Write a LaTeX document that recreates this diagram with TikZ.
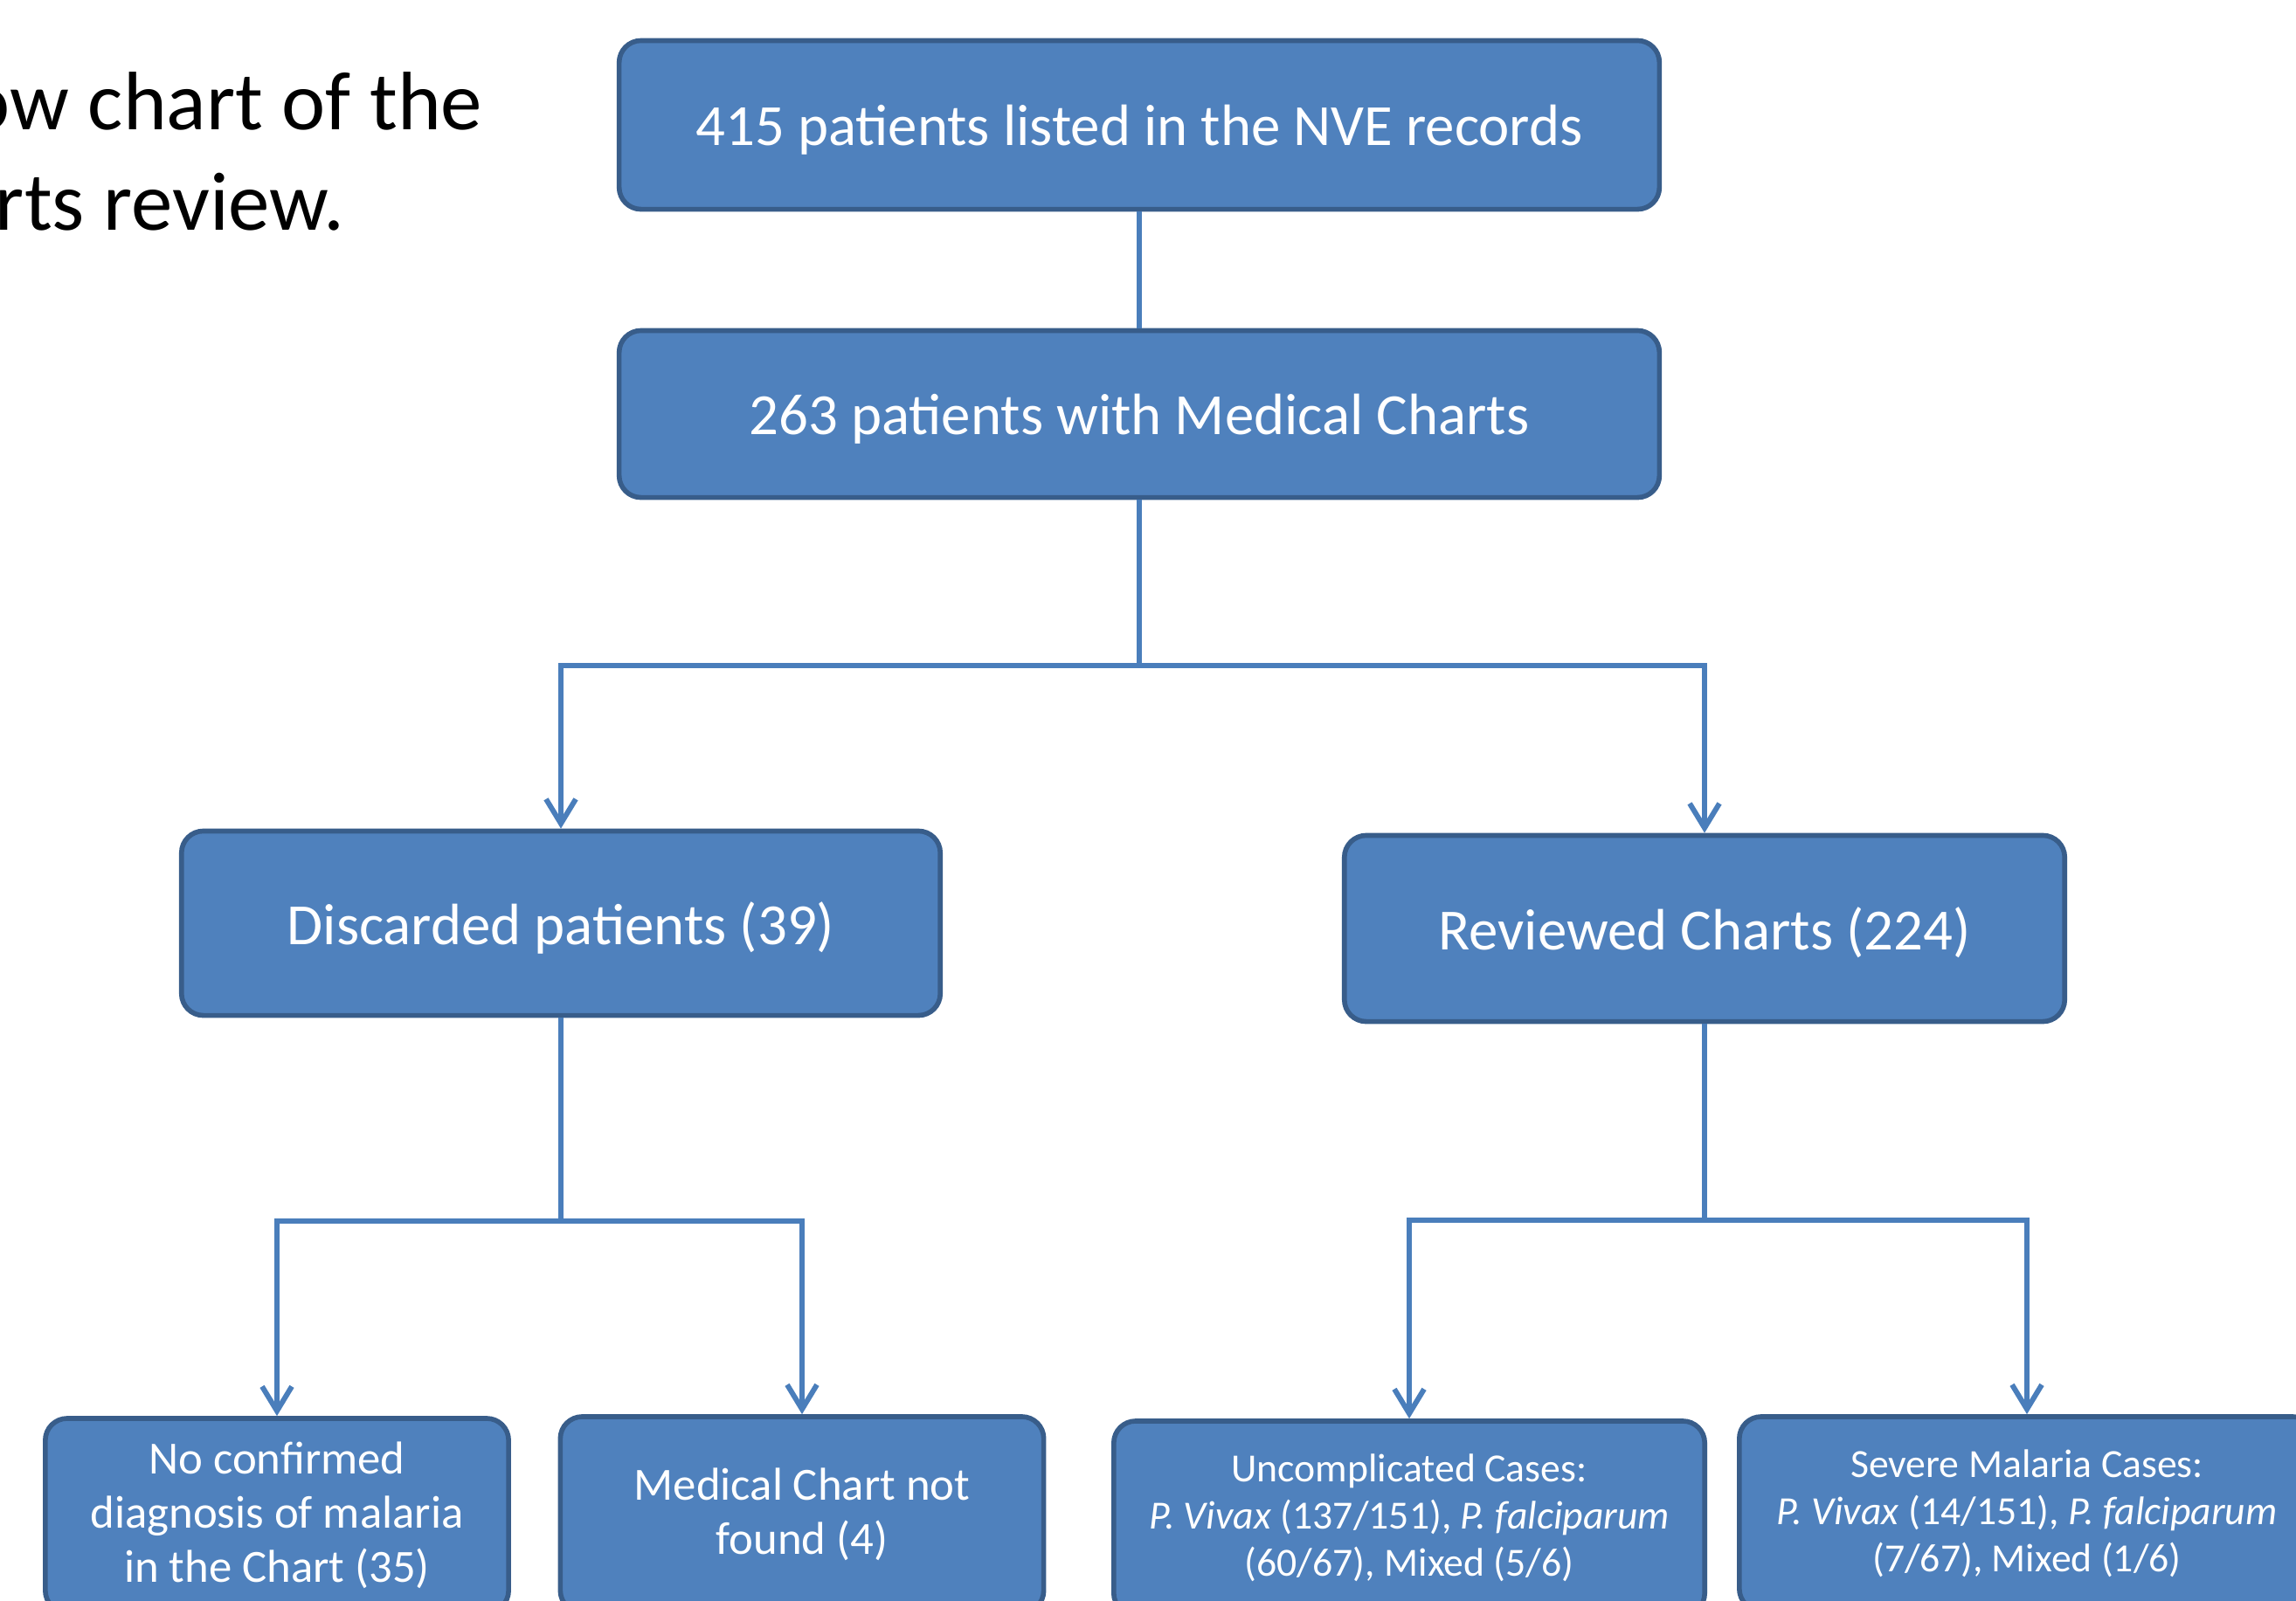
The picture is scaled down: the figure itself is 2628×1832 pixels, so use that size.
\documentclass[tikz,border=0pt]{standalone}
\usepackage{fontspec}
\setmainfont{Carlito}
\usetikzlibrary{arrows.meta}
\definecolor{boxblue}{HTML}{4F81BD}
\definecolor{boxedge}{HTML}{385D8A}
\definecolor{linkblue}{HTML}{4A7EBB}

\begin{document}
\begin{tikzpicture}[x=0.01cm,y=-0.01cm,
  box/.style={draw=boxedge, fill=boxblue, line width=1.6pt,
    rounded corners=0.25cm, text=white, align=center, inner sep=0pt},
  bigbox/.style={box, text depth=0pt, font=\fontsize{19}{23}\selectfont},
  link/.style={draw=linkblue, line width=1.7pt},
  arr/.style={-{Straight Barb[length=0.28cm,width=0.34cm]}},
  heading/.style={inner sep=0pt, font=\fontsize{27}{32}\selectfont}]
\useasboundingbox (0,0) rectangle (2628,1832);
% title, cut at the left edge
\node[heading, anchor=base east] (ttl1) at (553,148) {ow chart of the};
\node[heading, anchor=base east] (ttl2) at (395,263) {rts review.};
% upper boxes
\node[bigbox, minimum width=11.9cm, minimum height=1.93cm] (rec) at (1304,143)
  {415 patients listed in the NVE records};
\node[bigbox, minimum width=11.9cm, minimum height=1.91cm] (charts) at (1304,474)
  {263 patients with Medical Charts};
\node[bigbox, minimum width=8.68cm, minimum height=2.11cm] (disc) at (642,1057)
  {Discarded patients (39)};
\node[bigbox, minimum width=8.24cm, minimum height=2.13cm] (revd) at (1951,1063)
  {Reviewed Charts (224)};
% lower boxes, cut at the bottom edge
\node[box, minimum width=5.3cm, minimum height=2.22cm,
  font=\fontsize{15}{17.6}\selectfont] (nodiag) at (317,1735)
  {No confirmed\\diagnosis of malaria\\in the Chart (35)};
\node[box, minimum width=5.53cm, minimum height=2.24cm,
  font=\fontsize{15}{17.6}\selectfont] (nfound) at (918,1734)
  {Medical Chart not\\found (4)};
\node[box, minimum width=6.76cm, minimum height=2.22cm,
  font=\fontsize{13}{15.3}\selectfont] (unc) at (1613,1738)
  {Uncomplicated Cases:\\\textit{P. Vivax} (137/151), \textit{P. falciparum}\\(60/67), Mixed (5/6)};
\node[box, minimum width=6.58cm, minimum height=2.22cm,
  font=\fontsize{13}{15.3}\selectfont] (sev) at (2320,1733)
  {Severe Malaria Cases:\\\textit{P. Vivax} (14/151), \textit{P. falciparum}\\(7/67), Mixed (1/6)};
% connectors
\coordinate (split1) at (1304,762);
\coordinate (split2) at (642,1398);
\coordinate (split3) at (1951,1397);
\draw[link] (rec) -- (charts);
\draw[link] (charts) -- (split1);
\draw[link,arr] (split1) -| (disc);
\draw[link,arr] (split1) -| (revd);
\draw[link] (disc) -- (split2);
\draw[link,arr] (split2) -| (nodiag);
\draw[link,arr] (split2) -| (nfound);
\draw[link] (revd) -- (split3);
\draw[link,arr] (split3) -| (unc);
\draw[link,arr] (split3) -| (sev);
\end{tikzpicture}
\end{document}
